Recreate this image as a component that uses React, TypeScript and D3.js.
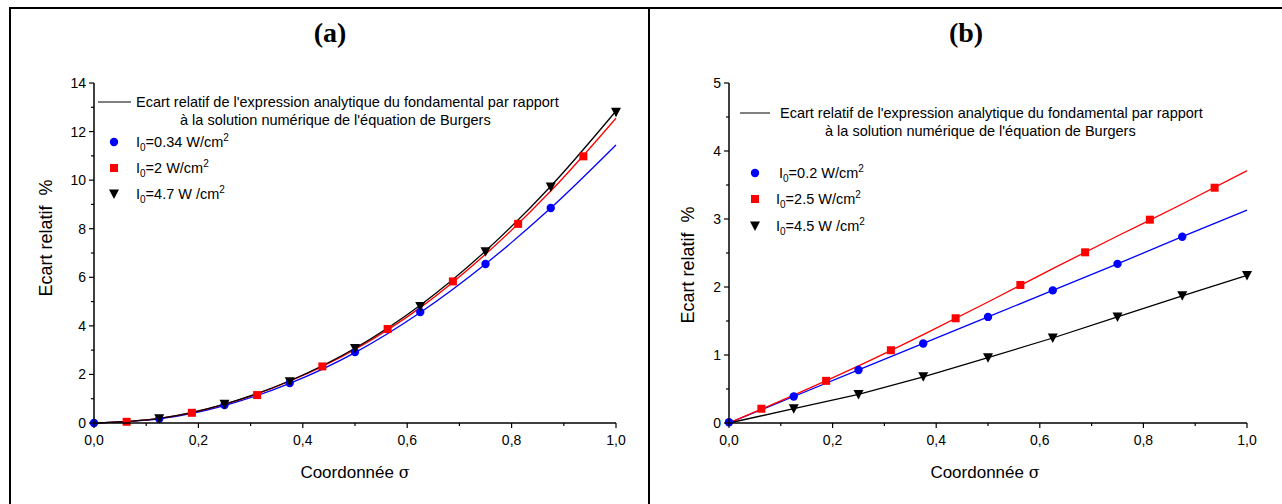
import React from "react";
import * as d3 from "d3";

// ---------- data ----------
const xTicks = [0, 0.2, 0.4, 0.6, 0.8, 1.0];
const xMinor = [0.1, 0.3, 0.5, 0.7, 0.9];
const lineGrid = [0, 0.125, 0.25, 0.375, 0.5, 0.625, 0.75, 0.875, 1.0];
const evenX = [0, 0.125, 0.25, 0.375, 0.5, 0.625, 0.75, 0.875];
const oddX = [0.0625, 0.1875, 0.3125, 0.4375, 0.5625, 0.6875, 0.8125, 0.9375];
const triX = [0.125, 0.25, 0.375, 0.5, 0.625, 0.75, 0.875, 1.0];

// panel (a)
const aYTicks = [0, 2, 4, 6, 8, 10, 12, 14];
const aYMinor = [1, 3, 5, 7, 9, 11, 13];
const aBlueLine = [0, 0.17, 0.72, 1.63, 2.9, 4.55, 6.55, 8.85, 11.45];
const aRedLine = [0, 0.19, 0.77, 1.72, 3.03, 4.75, 6.95, 9.55, 12.55];
const aBlackLine = [0, 0.19, 0.78, 1.74, 3.08, 4.85, 7.08, 9.75, 12.85];
const aBluePts = [0, 0.17, 0.74, 1.65, 2.92, 4.57, 6.55, 8.85];
const aRedPts = [0.05, 0.42, 1.15, 2.33, 3.87, 5.83, 8.2, 10.98];
const aBlackPts = [0.18, 0.77, 1.7, 3.07, 4.8, 7.05, 9.72, 12.8];
const aLegend = ["=0.34 W/cm", "=2 W/cm", "=4.7 W /cm"];

// panel (b)
const bYTicks = [0, 1, 2, 3, 4, 5];
const bYMinor = [0.5, 1.5, 2.5, 3.5, 4.5];
const bBlueLine = [0, 0.39, 0.78, 1.17, 1.56, 1.95, 2.34, 2.74, 3.13];
const bRedLine = [0, 0.41, 0.84, 1.3, 1.78, 2.27, 2.75, 3.22, 3.71];
const bBlackLine = [0, 0.21, 0.42, 0.68, 0.96, 1.25, 1.56, 1.87, 2.17];
const bBluePts = [0.01, 0.39, 0.78, 1.17, 1.56, 1.95, 2.34, 2.74];
const bRedPts = [0.21, 0.62, 1.07, 1.54, 2.03, 2.51, 2.99, 3.46];
const bBlackPts = [0.21, 0.42, 0.68, 0.96, 1.25, 1.56, 1.87, 2.17];
const bLegend = ["=0.2 W/cm", "=2.5 W/cm", "=4.5 W /cm"];

const legendLine1 = "Ecart relatif de l'expression analytique du fondamental par rapport";
const legendLine2 = "à la solution numérique de l'équation de Burgers";

const SANS = "'Liberation Sans', Arial, sans-serif";
const BLUE = "#0000ff";
const RED = "#ff0000";
const LEG_FS = 14.5;

type PanelProps = {
  title: string;
  x0: number; x1: number; y0: number; y1: number; yMax: number;
  yTicks: number[]; yMinor: number[];
  lines: { vals: number[]; color: string; curve: any }[];
  blue: number[]; red: number[]; black: number[];
  legend: string[];
  titleX: number;
  yLabelX: number; yLabelY: number;
  xLabelX: number;
  leg: { lineX0: number; lineX1: number; lineY: number; textX: number; text2X: number; markX: number; textXs: number[]; rows: number[] };
};

function Tri({ x, y }: { x: number; y: number }) {
  return <path d={`M${x - 5},${y - 4.5}L${x + 5},${y - 4.5}L${x},${y + 5}Z`} fill="#000" />;
}

function Panel(p: PanelProps) {
  const xs = d3.scaleLinear().domain([0, 1]).range([p.x0, p.x1]);
  const ys = d3.scaleLinear().domain([0, p.yMax]).range([p.y0, p.y1]);
  const fmtX = (v: number) => v.toFixed(1).replace(".", ",");
  return (
    <g>
      <text x={p.titleX} y={42} textAnchor="middle" fontFamily="'Liberation Serif', 'DejaVu Serif', serif" fontWeight="bold" fontSize={28}>{p.title}</text>
      {p.lines.map((l, i) => {
        const gen = d3.line<number>().x((_, j) => xs(lineGrid[j])).y((d) => ys(d)).curve(l.curve);
        return <path key={i} d={gen(l.vals) || ""} fill="none" stroke={l.color} strokeWidth={1.3} />;
      })}
      {p.blue.map((v, i) => <circle key={"b" + i} cx={xs(evenX[i])} cy={ys(v)} r={4.2} fill={BLUE} />)}
      {p.red.map((v, i) => <rect key={"r" + i} x={xs(oddX[i]) - 4} y={ys(v) - 4} width={8} height={8} fill={RED} />)}
      {p.black.map((v, i) => <Tri key={"k" + i} x={xs(triX[i])} y={ys(v)} />)}
      <line x1={p.x0} x2={p.x1} y1={p.y0} y2={p.y0} stroke="#000" strokeWidth={1.5} />
      <line x1={p.x0} x2={p.x0} y1={p.y0} y2={p.y1} stroke="#000" strokeWidth={1.5} />
      {xTicks.map((t) => (
        <g key={"xt" + t}>
          <line x1={xs(t)} x2={xs(t)} y1={p.y0} y2={p.y0 + 5} stroke="#000" strokeWidth={1.2} />
          <text x={xs(t)} y={p.y0 + 22} textAnchor="middle" fontFamily={SANS} fontSize={14}>{fmtX(t)}</text>
        </g>
      ))}
      {xMinor.map((t) => <line key={"xm" + t} x1={xs(t)} x2={xs(t)} y1={p.y0} y2={p.y0 + 3} stroke="#000" strokeWidth={1.2} />)}
      {p.yTicks.map((t) => (
        <g key={"yt" + t}>
          <line x1={p.x0 - 5} x2={p.x0} y1={ys(t)} y2={ys(t)} stroke="#000" strokeWidth={1.2} />
          <text x={p.x0 - 8} y={ys(t) + 5} textAnchor="end" fontFamily={SANS} fontSize={14}>{t}</text>
        </g>
      ))}
      {p.yMinor.map((t) => <line key={"ym" + t} x1={p.x0 - 3} x2={p.x0} y1={ys(t)} y2={ys(t)} stroke="#000" strokeWidth={1.2} />)}
      <text x={p.xLabelX} y={p.y0 + 55} textAnchor="middle" fontFamily={SANS} fontSize={17}>Coordonnée <tspan fontFamily="'DejaVu Serif', serif" fontSize={16}>σ</tspan></text>
      <text transform={`translate(${p.yLabelX},${p.yLabelY}) rotate(-90)`} textAnchor="middle" fontFamily={SANS} fontSize={18} style={{ whiteSpace: "pre" }}>{"Ecart relatif  %"}</text>
      <line x1={p.leg.lineX0} x2={p.leg.lineX1} y1={p.leg.lineY} y2={p.leg.lineY} stroke="#000" strokeWidth={1} />
      <text x={p.leg.textX} y={p.leg.lineY + 5} fontFamily={SANS} fontSize={LEG_FS}>{legendLine1}</text>
      <text x={p.leg.text2X} y={p.leg.lineY + 23} fontFamily={SANS} fontSize={LEG_FS}>{legendLine2}</text>
      <circle cx={p.leg.markX} cy={p.leg.rows[0]} r={4.2} fill={BLUE} />
      <rect x={p.leg.markX - 4} y={p.leg.rows[1] - 4} width={8} height={8} fill={RED} />
      <Tri x={p.leg.markX} y={p.leg.rows[2]} />
      {p.legend.map((s, i) => (
        <text key={"lg" + i} x={p.leg.textXs[i]} y={p.leg.rows[i] + 5} fontFamily={SANS} fontSize={LEG_FS} style={{ whiteSpace: "pre" }}>
          I<tspan fontSize={10} dy={4}>0</tspan><tspan dy={-4}>{s}</tspan><tspan fontSize={10} dy={-6}>2</tspan>
        </text>
      ))}
    </g>
  );
}

export default function App() {
  return (
    <svg width={1282} height={504} style={{ position: "absolute", left: 0, top: 0, background: "#fff" }}>
      <rect x={0} y={0} width={1282} height={504} fill="#fff" />
      <line x1={10} x2={10} y1={7} y2={504} stroke="#000" strokeWidth={2} />
      <line x1={10} x2={1282} y1={8} y2={8} stroke="#000" strokeWidth={2} />
      <line x1={649} x2={649} y1={7} y2={504} stroke="#000" strokeWidth={2} />
      <Panel
        title="(a)" titleX={330}
        x0={94} x1={616} y0={423} y1={83} yMax={14}
        yTicks={aYTicks} yMinor={aYMinor}
        lines={[
          { vals: aBlueLine, color: BLUE, curve: d3.curveMonotoneX },
          { vals: aRedLine, color: RED, curve: d3.curveMonotoneX },
          { vals: aBlackLine, color: "#000", curve: d3.curveMonotoneX },
        ]}
        blue={aBluePts} red={aRedPts} black={aBlackPts}
        legend={aLegend}
        yLabelX={52} yLabelY={238} xLabelX={355}
        leg={{ lineX0: 98, lineX1: 131, lineY: 102, textX: 136, text2X: 180, markX: 114, textXs: [136, 136, 136], rows: [142, 168, 194] }}
      />
      <Panel
        title="(b)" titleX={966}
        x0={729} x1={1247} y0={423} y1={83} yMax={5}
        yTicks={bYTicks} yMinor={bYMinor}
        lines={[
          { vals: bBlueLine, color: BLUE, curve: d3.curveLinear },
          { vals: bRedLine, color: RED, curve: d3.curveMonotoneX },
          { vals: bBlackLine, color: "#000", curve: d3.curveLinear },
        ]}
        blue={bBluePts} red={bRedPts} black={bBlackPts}
        legend={bLegend}
        yLabelX={694} yLabelY={265} xLabelX={985}
        leg={{ lineX0: 740, lineX1: 770, lineY: 113, textX: 780, text2X: 825, markX: 755, textXs: [779, 776, 776], rows: [173, 199, 226] }}
      />
    </svg>
  );
}
